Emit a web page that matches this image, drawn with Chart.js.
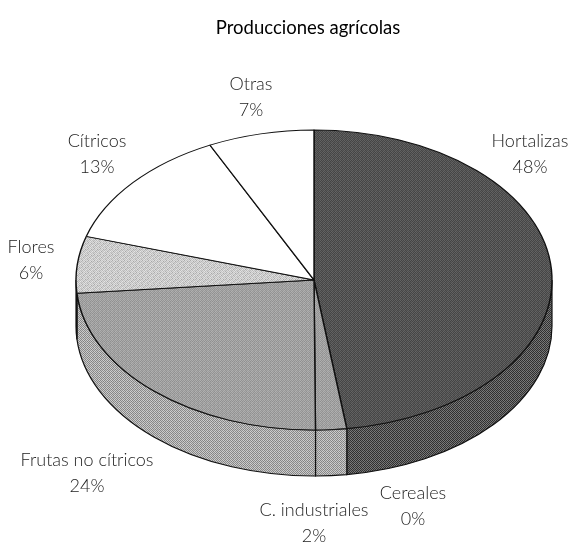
<!DOCTYPE html>
<html>
<head>
<meta charset="utf-8">
<style>
  body { margin: 0; background: #fff; }
  canvas { display: block; }
</style>
<script src="https://cdn.jsdelivr.net/npm/chart.js@4"></script>
</head>
<body>
<canvas id="pie" width="572" height="545"></canvas>
<script>
// Data
const categories = ['Hortalizas', 'C. industriales', 'Cereales', 'Frutas no cítricos', 'Flores', 'Cítricos', 'Otras'];
const shares = [47.8, 2.1, 0, 23.7, 6.1, 13.1, 7.2];
const printedPercent = ['48%', '2%', '0%', '24%', '6%', '13%', '7%'];

// Where each label sits (centre of the name line), same order as categories
const labelSpots = [[530, 141], [314, 510], [413, 493], [87, 460], [31, 247], [97, 141], [251, 84]];

// Tilted disc on the page
const disc = { x: 314, y: 280, rx: 238, ry: 150, depth: 46 };

// Halftone tiles, grey levels per pixel
const darkTile = [
    [0x2c, 0x76, 0x30, 0x7c],
    [0x7a, 0x34, 0x70, 0x2e],
    [0x30, 0x6c, 0x38, 0x78],
    [0x74, 0x2e, 0x7e, 0x34]
];
const midTile = [
    [0x7c, 0xc0, 0x84, 0xc8],
    [0xc4, 0x80, 0xbc, 0x78],
    [0x82, 0xb8, 0x88, 0xc4],
    [0xc0, 0x7c, 0xc8, 0x84]
];
const sideMidTile = [
    [0x84, 0xc8, 0x8c, 0xd0],
    [0xcc, 0x88, 0xc4, 0x80],
    [0x88, 0xc0, 0x90, 0xcc],
    [0xc8, 0x84, 0xd0, 0x8c]
];
const speckleTile = [
    [0xff, 0x90, 0xf0, 0xa8, 0xff, 0xb8],
    [0x98, 0xe8, 0xb0, 0xff, 0x88, 0xf0],
    [0xf0, 0xa8, 0xff, 0xa0, 0xe8, 0x98],
    [0xb0, 0xff, 0x88, 0xf0, 0xa8, 0xff],
    [0xe8, 0xa0, 0xf0, 0x98, 0xff, 0xb0],
    [0x90, 0xf8, 0xb0, 0xff, 0xa0, 0xe8]
];

function makePattern(tile) {
    const c = document.createElement('canvas');
    c.width = tile[0].length;
    c.height = tile.length;
    const g = c.getContext('2d');
    tile.forEach((row, y) => row.forEach((v, x) => {
        g.fillStyle = `rgb(${v},${v},${v})`;
        g.fillRect(x, y, 1, 1);
    }));
    return g.createPattern(c, 'repeat');
}

const ctxMain = document.getElementById('pie').getContext('2d');
const dark = makePattern(darkTile);
const mid = makePattern(midTile);
const sideMid = makePattern(sideMidTile);
const speckle = makePattern(speckleTile);

const topFills = [dark, mid, mid, mid, speckle, '#fff', '#fff'];
const sideFills = [dark, sideMid, sideMid, sideMid, sideMid, '#fff', '#fff'];

// Squash the pie into an ellipse and draw the rim under it
const tiltPlugin = {
    id: 'tilt',
    beforeDatasetsDraw(chart) {
        const ctx = chart.ctx;
        const arcs = chart.getDatasetMeta(0).data;
        const R = arcs[0].outerRadius;
        const sx = disc.rx / R, sy = disc.ry / R;

        // rim: only the part of each slice that faces us
        arcs.forEach((arc, i) => {
            const a0 = Math.max(arc.startAngle, 0);
            const a1 = Math.min(arc.endAngle, Math.PI);
            if (a1 <= a0) return;
            ctx.beginPath();
            ctx.ellipse(disc.x, disc.y, disc.rx, disc.ry, 0, a0, a1);
            ctx.ellipse(disc.x, disc.y + disc.depth, disc.rx, disc.ry, 0, a1, a0, true);
            ctx.closePath();
            ctx.fillStyle = sideFills[i];
            ctx.fill();
            ctx.lineWidth = 1.2;
            ctx.strokeStyle = '#111';
            ctx.stroke();
        });

        // keep the halftone at page pixels under the squash
        [dark, mid, speckle].forEach(p => p.setTransform(new DOMMatrix().scale(1 / sx, 1 / sy)));

        ctx.save();
        ctx.translate(disc.x, disc.y);
        ctx.scale(sx, sy);
        ctx.translate(-arcs[0].x, -arcs[0].y);
    },
    afterDatasetsDraw(chart) {
        chart.ctx.restore();
    },
    afterDraw(chart) {
        const ctx = chart.ctx;
        ctx.save();
        ctx.font = '300 18px Lato';
        ctx.fillStyle = '#222';
        ctx.textAlign = 'center';
        ctx.textBaseline = 'middle';
        categories.forEach((name, i) => {
            const [x, y] = labelSpots[i];
            ctx.fillText(name, x, y);
            ctx.fillText(printedPercent[i], x, y + 26);
        });
        ctx.restore();
    }
};

new Chart(ctxMain, {
    type: 'pie',
    data: {
        labels: categories,
        datasets: [{
            data: shares,
            backgroundColor: topFills,
            borderColor: '#111',
            borderWidth: 1.5,
            clip: false
        }]
    },
    options: {
        responsive: false,
        animation: false,
        events: [],
        layout: { padding: { left: 44 } },
        plugins: {
            legend: { display: false },
            tooltip: { enabled: false },
            title: {
                display: true,
                text: 'Producciones agrícolas',
                color: '#000',
                font: { family: 'Lato', size: 18.5, weight: 'normal' },
                padding: { top: 17, bottom: 4 }
            }
        }
    },
    plugins: [tiltPlugin]
});
</script>
</body>
</html>
